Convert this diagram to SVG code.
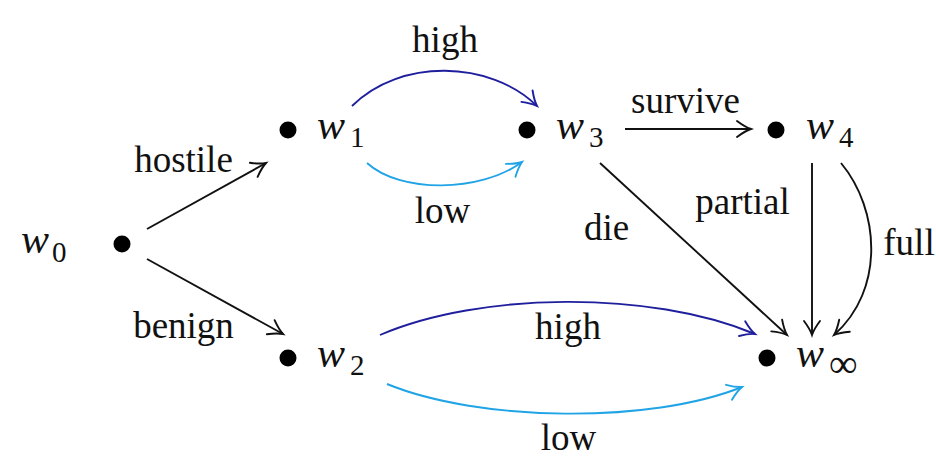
<svg xmlns="http://www.w3.org/2000/svg" width="936" height="457" viewBox="0 0 936 457">
<style>
.lbl{font-size:37px;fill:#111;text-anchor:middle}
.m{font-style:italic;font-size:42px;fill:#111}
.s{font-size:29px;fill:#111}
.inf{font-size:40px;fill:#111}
.dot{fill:#000}
.e{fill:none;stroke-width:1.9}
.k{stroke:#111;marker-end:url(#ak)}
.b{stroke:#1f1f9e;marker-end:url(#ab)}
.c{stroke:#20a4e6;marker-end:url(#ac)}
</style>
<defs>
<marker id="ak" markerUnits="userSpaceOnUse" markerWidth="30" markerHeight="30" refX="0" refY="0" orient="auto" overflow="visible"><path d="M-14,-8 C-8,-3.5 -3,-1 0,0 C-3,1 -8,3.5 -14,8" fill="none" stroke="#111" stroke-width="1.9" stroke-linecap="round"/></marker>
<marker id="ab" markerUnits="userSpaceOnUse" markerWidth="30" markerHeight="30" refX="0" refY="0" orient="auto" overflow="visible"><path d="M-14,-8 C-8,-3.5 -3,-1 0,0 C-3,1 -8,3.5 -14,8" fill="none" stroke="#1f1f9e" stroke-width="1.9" stroke-linecap="round"/></marker>
<marker id="ac" markerUnits="userSpaceOnUse" markerWidth="30" markerHeight="30" refX="0" refY="0" orient="auto" overflow="visible"><path d="M-14,-8 C-8,-3.5 -3,-1 0,0 C-3,1 -8,3.5 -14,8" fill="none" stroke="#20a4e6" stroke-width="1.9" stroke-linecap="round"/></marker>
</defs>
<rect width="936" height="457" fill="#fff"/>
<g id="connectors">
<g id="e-hostile"><path class="e k" d="M147,229 L266,163"/><text class="lbl" font-family="Liberation Serif" x="183.5" y="172">hostile</text></g>
<g id="e-benign"><path class="e k" d="M147,259 L283,334"/><text class="lbl" font-family="Liberation Serif" x="183.5" y="338">benign</text></g>
<g id="e-w1-w3-high"><path class="e b" d="M352,106 C400,58 490,60 537,106"/><text class="lbl" font-family="Liberation Serif" x="445" y="52">high</text></g>
<g id="e-w1-w3-low"><path class="e c" d="M367,163 C400,193 480,193 522,162"/><text class="lbl" font-family="Liberation Serif" x="442.5" y="223">low</text></g>
<g id="e-survive"><path class="e k" d="M625,129 L751,129"/><text class="lbl" font-family="Liberation Serif" x="685.5" y="113">survive</text></g>
<g id="e-die"><path class="e k" d="M600,163 L787,335"/><text class="lbl" font-family="Liberation Serif" x="606.5" y="240">die</text></g>
<g id="e-partial"><path class="e k" d="M812,163 L812,335"/><text class="lbl" font-family="Liberation Serif" x="742.5" y="214">partial</text></g>
<g id="e-full"><path class="e k" d="M841,163 C880,210 885,290 834,335"/><text class="lbl" font-family="Liberation Serif" x="909" y="255">full</text></g>
<g id="e-w2-winf-high"><path class="e b" d="M380,335 C480,292 650,290 755,334"/><text class="lbl" font-family="Liberation Serif" x="568" y="339">high</text></g>
<g id="e-w2-winf-low"><path class="e c" d="M387,384 C480,422 650,424 742,387"/><text class="lbl" font-family="Liberation Serif" x="568.5" y="450">low</text></g>
</g>
<g id="w0"><circle class="dot" cx="122" cy="244" r="8.5"/><text class="m" font-family="Liberation Serif" x="21" y="253">w</text><text class="s" font-family="Liberation Serif" x="52" y="262">0</text></g>
<g id="w1"><circle class="dot" cx="288" cy="130" r="8.5"/><text class="m" font-family="Liberation Serif" x="317" y="139">w</text><text class="s" font-family="Liberation Serif" x="350" y="147">1</text></g>
<g id="w3"><circle class="dot" cx="527" cy="130" r="8.5"/><text class="m" font-family="Liberation Serif" x="556" y="139">w</text><text class="s" font-family="Liberation Serif" x="589" y="147">3</text></g>
<g id="w4"><circle class="dot" cx="776" cy="130" r="8.5"/><text class="m" font-family="Liberation Serif" x="806" y="139">w</text><text class="s" font-family="Liberation Serif" x="839" y="147">4</text></g>
<g id="w2"><circle class="dot" cx="288" cy="358" r="8.5"/><text class="m" font-family="Liberation Serif" x="317" y="367">w</text><text class="s" font-family="Liberation Serif" x="350" y="375">2</text></g>
<g id="winf"><circle class="dot" cx="767" cy="358" r="8.5"/><text class="m" font-family="Liberation Serif" x="796" y="367">w</text><text class="inf" font-family="Liberation Serif" x="829" y="377">∞</text></g>
</svg>
